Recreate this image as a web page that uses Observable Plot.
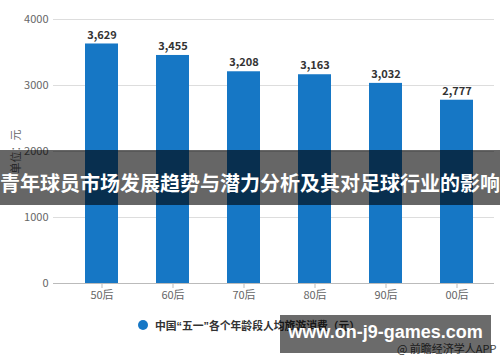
<!DOCTYPE html>
<html>
<head>
<meta charset="utf-8">
<script src="https://cdn.jsdelivr.net/npm/d3@7"></script>
<script src="https://cdn.jsdelivr.net/npm/@observablehq/plot@0.6"></script>
<style>
  html, body { margin: 0; padding: 0; background: #fff; }
  #wrap { position: relative; width: 500px; height: 362px; overflow: hidden; font-family: "Noto Sans CJK SC", "Noto Sans", sans-serif; }
  #chart svg { display: block; }
  #legend { position: absolute; left: 138px; top: 318px; height: 14px; display: flex; align-items: center; font-family: "Liberation Sans", "Noto Sans CJK SC", sans-serif; font-size: 10.8px; font-weight: bold; color: #333; white-space: nowrap; }
  #legend .dot { width: 10px; height: 10px; border-radius: 50%; background: #1677c5; margin-right: 7px; }
  #source { position: absolute; left: 397px; top: 340px; font-size: 11px; color: #444; white-space: nowrap; }
  #banner { position: absolute; left: 0; top: 150px; width: 500px; height: 55px; background: rgba(0,0,0,0.6); }
  #bannerText { position: absolute; left: 0; top: 170px; width: 500px; text-align: center; font-size: 20px; line-height: 26px; font-weight: bold; color: #fff; white-space: nowrap; }
  #wm { position: absolute; left: 280px; top: 315px; width: 211px; height: 38px; background: rgba(0,0,0,0.58); }
  #wmText { position: absolute; left: 280px; top: 320px; width: 211px; text-align: center; font-family: "Liberation Sans", Arial, sans-serif; font-size: 18px; line-height: 24px; font-weight: bold; color: #fff; white-space: nowrap; }
</style>
</head>
<body>
<div id="wrap">
  <div id="chart"></div>
  <div id="legend"><span class="dot"></span><span>中国“五一”各个年龄段人均旅游消费（元）</span></div>
  <div id="source">@ 前瞻经济学人APP</div>
  <div id="banner"></div>
  <div id="bannerText">青年球员市场发展趋势与潜力分析及其对足球行业的影响</div>
  <div id="wm"></div>
  <div id="wmText">www.on-j9-games.com</div>
</div>
<script>
const categories = ["50后", "60后", "70后", "80后", "90后", "00后"];
const values = [3629, 3455, 3208, 3163, 3032, 2777];
const yTicks = [0, 1000, 2000, 3000, 4000];
const yLabel = "单位：元";

const data = categories.map((c, i) => ({cat: c, value: values[i]}));
const fmt = d3.format(",");

const chart = Plot.plot({
  width: 500,
  height: 310,
  marginTop: 19,
  marginBottom: 27,
  marginLeft: 53,
  marginRight: 6,
  style: {fontFamily: "'Noto Sans CJK SC', 'Noto Sans', sans-serif", fontSize: "11px", color: "#666", background: "transparent"},
  x: {domain: categories, paddingInner: 0.53, paddingOuter: 0.335, align: 0.6, label: null},
  y: {domain: [0, 4000], label: null},
  marks: [
    Plot.gridY(yTicks, {stroke: "#ddd", strokeOpacity: 1}),
    Plot.axisY(yTicks, {tickSize: 0, tickPadding: 5, tickFormat: d3.format("d"), label: yLabel, labelAnchor: "center", labelOffset: 41, labelArrow: "none"}),
    Plot.barY(data, {x: "cat", y: "value", fill: "#1677c5"}),
    Plot.ruleY([0], {stroke: "#bbb"}),
    Plot.axisX({tickSize: 5, tickPadding: 3, stroke: "#bbb", label: null}),
    Plot.text(data, {x: "cat", y: "value", text: d => fmt(d.value), dy: -9, fontWeight: "bold", fill: "#333", fontSize: 11})
  ]
});
document.getElementById("chart").appendChild(chart);
</script>
</body>
</html>
